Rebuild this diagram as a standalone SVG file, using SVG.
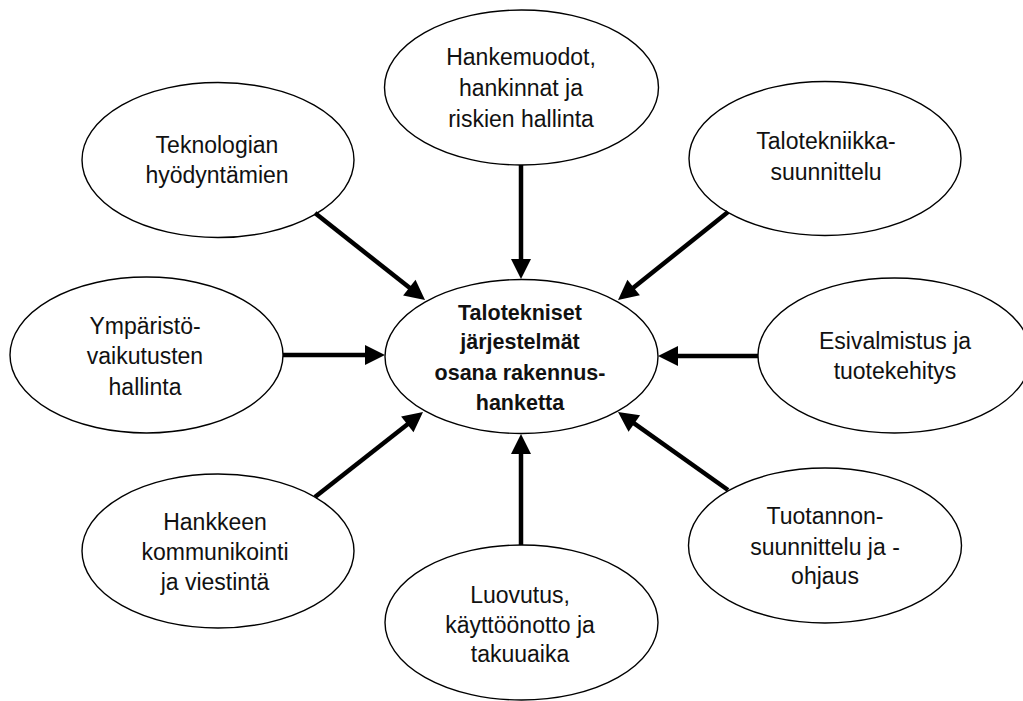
<svg xmlns="http://www.w3.org/2000/svg" width="1023" height="701" viewBox="0 0 1023 701">
<style>
.node ellipse{fill:#fff;stroke:#000;stroke-width:1.4}
.node text{font-family:"Liberation Sans",Arial,sans-serif;font-size:23px;fill:#111;text-anchor:middle}
#center text{font-weight:bold;font-size:21.5px}
.conn line{stroke:#000;stroke-width:4.5;marker-end:url(#ah)}
</style>
<defs>
<marker id="ah" markerUnits="userSpaceOnUse" markerWidth="20" markerHeight="20" refX="8" refY="10" orient="auto" overflow="visible">
<path d="M0,0 L20,10 L0,20 z" fill="#000"/>
</marker>
</defs>
<rect width="1023" height="701" fill="#fff"/>
<g id="n-top" class="node">
<ellipse cx="521.5" cy="87.5" rx="137" ry="77.5"/>
<text x="521" y="65">Hankemuodot,</text>
<text x="521" y="96">hankinnat ja</text>
<text x="521" y="127">riskien hallinta</text>
</g>
<g id="n-topleft" class="node">
<ellipse cx="218" cy="160" rx="136" ry="77.5"/>
<text x="217" y="153">Teknologian</text>
<text x="217" y="183">hyödyntämien</text>
</g>
<g id="n-topright" class="node">
<ellipse cx="825" cy="158.5" rx="136" ry="77"/>
<text x="826" y="149">Talotekniikka-</text>
<text x="826" y="180">suunnittelu</text>
</g>
<g id="n-left" class="node">
<ellipse cx="146.5" cy="355" rx="136.5" ry="78"/>
<text x="145" y="334">Ympäristö-</text>
<text x="145" y="364">vaikutusten</text>
<text x="145" y="395">hallinta</text>
</g>
<g id="center" class="node">
<ellipse cx="521.5" cy="356.5" rx="136.5" ry="77"/>
<text x="520" y="320">Talotekniset</text>
<text x="520" y="349">järjestelmät</text>
<text x="520" y="380">osana rakennus-</text>
<text x="520" y="410">hanketta</text>
</g>
<g id="n-right" class="node">
<ellipse cx="894.5" cy="355.5" rx="136.5" ry="77.5"/>
<text x="895" y="349">Esivalmistus ja</text>
<text x="895" y="379">tuotekehitys</text>
</g>
<g id="n-bottomleft" class="node">
<ellipse cx="218" cy="551" rx="136" ry="77"/>
<text x="215" y="530">Hankkeen</text>
<text x="215" y="560">kommunikointi</text>
<text x="215" y="590">ja viestintä</text>
</g>
<g id="n-bottom" class="node">
<ellipse cx="521.5" cy="622.5" rx="136.5" ry="77.5"/>
<text x="520" y="603">Luovutus,</text>
<text x="520" y="633">käyttöönotto ja</text>
<text x="520" y="662">takuuaika</text>
</g>
<g id="n-bottomright" class="node">
<ellipse cx="825" cy="545.5" rx="136.5" ry="77.5"/>
<text x="825" y="524">Tuotannon-</text>
<text x="825" y="555">suunnittelu ja -</text>
<text x="825" y="584">ohjaus</text>
</g>
<g id="connectors" class="conn">
<line x1="521" y1="165" x2="521" y2="267"/>
<line x1="315" y1="213" x2="415.6" y2="292.6"/>
<line x1="728" y1="212" x2="627.4" y2="292.5"/>
<line x1="283" y1="355" x2="373" y2="355"/>
<line x1="758" y1="356" x2="670" y2="356"/>
<line x1="315" y1="497" x2="413.6" y2="419.4"/>
<line x1="521" y1="545" x2="521" y2="446"/>
<line x1="728" y1="490" x2="627.8" y2="418.9"/>
</g>
</svg>
